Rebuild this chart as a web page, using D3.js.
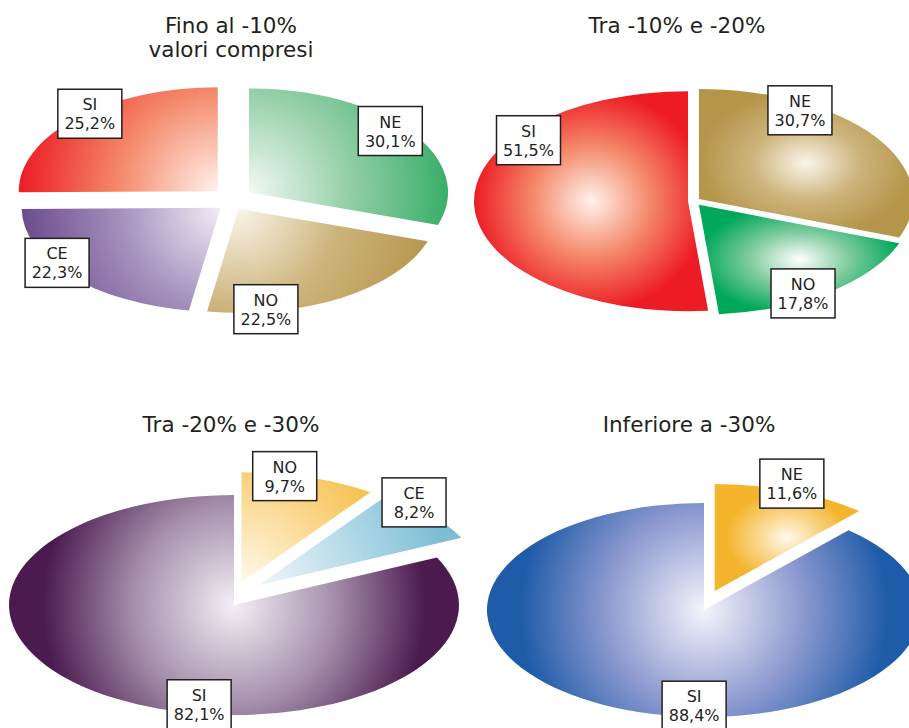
<!DOCTYPE html>
<html><head><meta charset="utf-8">
<script src="https://cdn.jsdelivr.net/npm/d3@7"></script>
<style>html,body{margin:0;padding:0;background:#fff}svg{display:block}</style>
</head><body>
<svg id="chart" width="909" height="728"></svg>
<script>
// ---- data ----
const titles = [["Fino al -10%", "valori compresi"], ["Tra -10% e -20%"], ["Tra -20% e -30%"], ["Inferiore a -30%"]];
const categories1 = ["NE", "NO", "CE", "SI"];
const values1 = [30.1, 22.5, 22.3, 25.2];
const categories2 = ["NE", "NO", "SI"];
const values2 = [30.7, 17.8, 51.5];
const categories3 = ["NO", "CE", "SI"];
const values3 = [9.7, 8.2, 82.1];
const categories4 = ["NE", "SI"];
const values4 = [11.6, 88.4];

// ---- styles / layout ----
const palette = {
  red:      ["#FFF2EC", "#F4896A", "#ED1C24"],
  green:    ["#F2F9F4", "#95CFA8", "#39AE6A"],
  gold:     ["#FAF5EA", "#CDB47C", "#B5954A"],
  lavender: ["#F1EDF6", "#A591BD", "#6C4B8D"],
  green2:   ["#FFFFFF", "#7FCB9E", "#00A85A"],
  plum:     ["#F3EFF5", "#A48EAB", "#4B1B4F"],
  yellow:   ["#FFF9EC", "#F9D382", "#F4B42C"],
  sky:      ["#F0F7FA", "#B3D9E7", "#7BBDD5"],
  blue:     ["#F4F4FB", "#8E9AD0", "#1E5BA8"]
};
const layout = [
  {cats: categories1, vals: values1, cx: 232, cy: 201, rx: 199, ry: 104, tx: 231, ty: 33,
   explode: [21, 13, 15, 20], ek: 0.7, grad: ["apex","apex","apex","apex"], stops: [0, 0.5, 1],
   colors: ["green", "gold", "lavender", "red"],
   labels: [[50.5, .92], [172, .98], [237, .98], [319, .98]]},
  {cats: categories2, vals: values2, cx: 694, cy: 201, rx: 214, ry: 110, tx: 677, ty: 33,
   explode: [6, 8, 6], ek: 0.6, grad: ["bbox","bbox","bbox"], stops: [0, 0.5, 1],
   colors: ["gold", "green2", "red"],
   labels: [[30.5, .93], [149, .945], [306.4, .926]]},
  {cats: categories3, vals: values3, cx: 234, cy: 605, rx: 225, ry: 110, tx: 231, ty: 432,
   explode: [25, 32, 0], ek: 0.95, grad: ["apex","apex","apex"], stops: [0, 0.45, 0.85],
   colors: ["yellow", "sky", "plum"],
   labels: [[11.3, .98], [42.7, 1.02], [189.7, .92]]},
  {cats: categories4, vals: values4, cx: 704, cy: 610, rx: 217, ry: 107, tx: 689, ty: 432,
   explode: [30, 0], ek: 0.68, grad: ["bbox","apex"], stops: [0, 0.45, 0.85],
   colors: ["yellow", "blue"],
   labels: [[19.6, 1.06], [182.9, .9]]}
];

const FONT = "'DejaVu Sans', Verdana, sans-serif";
const fmt = d3.formatLocale({decimal: ",", thousands: ".", grouping: [3], currency: ["", "€"]}).format(".1f");

const svg = d3.select("#chart");
const defs = svg.append("defs");
const pie = d3.pie().sort(null).startAngle(0).endAngle(2 * Math.PI);

layout.forEach((L, ci) => {
  const k = L.ry / L.rx;
  const arcs = pie(L.vals);
  const arc = d3.arc().innerRadius(0).outerRadius(L.rx);
  const chartG = svg.append("g");

  // title
  const t = chartG.append("text").attr("x", L.tx).attr("y", L.ty)
    .attr("text-anchor", "middle").attr("font-family", FONT).attr("font-size", 21.5).attr("fill", "#231F20");
  titles[ci].forEach((line, li) => t.append("tspan").attr("x", L.tx).attr("dy", li ? 24 : 0).text(line));

  const apexes = arcs.map((a, i) => {
    const mid = (a.startAngle + a.endAngle) / 2;
    const d = L.explode[i];
    return [L.cx + d * Math.sin(mid), L.cy - d * Math.cos(mid) * L.ek];
  });

  arcs.forEach((a, i) => {
    const id = `g${ci}_${i}`;
    const cols = palette[L.colors[i]];
    let grad;
    if (L.grad[i] === "apex") {
      grad = defs.append("radialGradient").attr("id", id)
        .attr("gradientUnits", "userSpaceOnUse")
        .attr("cx", 0).attr("cy", 0).attr("r", L.rx)
        .attr("gradientTransform", `scale(1,${1 / k})`);
    } else {
      grad = defs.append("radialGradient").attr("id", id)
        .attr("cx", 0.5).attr("cy", 0.5).attr("r", 0.5);
    }
    L.stops.forEach((o, si) => grad.append("stop").attr("offset", o).attr("stop-color", cols[si]));

    const [ax, ay] = apexes[i];
    chartG.append("g").attr("transform", `translate(${ax},${ay}) scale(1,${k})`)
      .append("path").attr("d", arc(a)).attr("fill", `url(#${id})`);
  });

  // labels
  arcs.forEach((a, i) => {
    const [ax, ay] = apexes[i];
    const ang = L.labels[i][0] * Math.PI / 180, f = L.labels[i][1];
    const x = ax + L.rx * f * Math.sin(ang);
    const y = ay - L.ry * f * Math.cos(ang);
    const lg = chartG.append("g").attr("transform", `translate(${x},${y})`);
    lg.append("rect").attr("x", -32).attr("y", -25).attr("width", 64).attr("height", 49)
      .attr("fill", "#fff").attr("stroke", "#231F20").attr("stroke-width", 1.5);
    lg.append("text").attr("text-anchor", "middle").attr("y", -4)
      .attr("font-family", FONT).attr("font-size", 16).attr("fill", "#231F20").text(L.cats[i]);
    lg.append("text").attr("text-anchor", "middle").attr("y", 15)
      .attr("font-family", FONT).attr("font-size", 16).attr("fill", "#231F20").text(fmt(L.vals[i]) + "%");
  });
});
</script>
</body></html>
